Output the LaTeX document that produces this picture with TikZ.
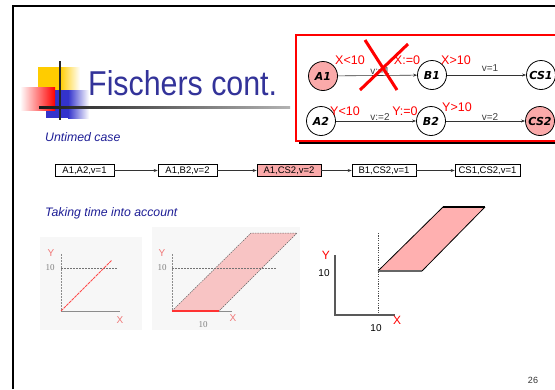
\documentclass[tikz,border=0pt]{standalone}
\usepackage{fontspec}
\setmainfont{Liberation Sans}
\newfontfamily\dejavu{DejaVu Sans}
\newfontfamily\serifft{Liberation Serif}
\usetikzlibrary{arrows.meta}
\definecolor{titleblue}{RGB}{51,51,153}
\definecolor{subblue}{RGB}{30,30,150}
\definecolor{statepink}{RGB}{250,170,170}
\definecolor{logoyellow}{RGB}{255,204,0}
\definecolor{logoblue}{RGB}{51,51,204}
\definecolor{regionpink}{RGB}{255,176,176}
\definecolor{hatchpink}{RGB}{248,196,196}
\definecolor{plotred}{RGB}{240,120,120}
\begin{document}
\begin{tikzpicture}[x=1pt,y=-1pt,
  statenode/.style={circle,draw=black,line width=0.8pt,minimum size=29pt,inner sep=0pt,
    font=\dejavu\bfseries\itshape\fontsize{11}{11}\selectfont},
  guard/.style={text=red,font=\fontsize{12.5}{12.5}\selectfont,inner sep=0pt},
  upd/.style={text=black!75,font=\fontsize{10}{10}\selectfont,inner sep=0pt},
  statebox/.style={draw=black,line width=0.6pt,minimum height=12pt,inner sep=0pt,
    font=\fontsize{9.5}{9.5}\selectfont},
  conn/.style={draw=black!80,line width=0.6pt,-{Stealth[length=4pt,width=3pt]}},
  subtitle/.style={text=subblue,font=\itshape\fontsize{12.3}{12.3}\selectfont,anchor=west,inner sep=0pt},
  faintlbl/.style={text=plotred,font=\fontsize{10}{10}\selectfont,inner sep=0pt},
  faintnum/.style={text=black!50,font=\serifft\fontsize{9}{9}\selectfont,inner sep=0pt},
  axlbl/.style={text=red,font=\fontsize{12}{12}\selectfont,inner sep=0pt},
  axnum/.style={text=black,font=\fontsize{10}{10}\selectfont,inner sep=0pt}
]
\useasboundingbox (0,0) rectangle (555,389);
\fill[white] (0,0) rectangle (555,389);
% slide frame
\draw[black,line width=2pt] (13,389) -- (13,6) -- (556,6);

% logo
\fill[logoyellow] (38,67) rectangle (60,90);
\shade[left color=logoyellow,right color=white] (60,67) rectangle (80,90);
\fill[logoblue] (46,90) rectangle (68,118);
\shade[left color=logoblue,right color=white] (68,90) rectangle (89,118);
\shade[left color=white,right color=red] (20,87) rectangle (55,110);
\draw[black!85,line width=1.6pt] (60,61) -- (60,120);
\shade[left color=black!90,right color=black!30] (39,106) rectangle (290,108.5);

% title
\node[anchor=base west,inner sep=0pt,text=titleblue] (title) at (88,95)
  {\scalebox{0.88}[1]{\fontsize{34.5}{34.5}\selectfont Fischers cont.}};

% red automaton box
\fill[black] (299,38) rectangle (560,144);
\draw[red,line width=1.5pt,fill=white] (296,35) rectangle (558,141);

\node[statenode,fill=statepink] (A1) at (323,76) {A1};
\node[statenode,fill=white] (B1) at (432,75) {B1};
\node[statenode,fill=white] (CS1) at (541,75) {CS1};
\node[statenode,fill=white] (A2) at (321,121) {A2};
\node[statenode,fill=white] (B2) at (431,121) {B2};
\node[statenode,fill=statepink] (CS2) at (540,121) {CS2};

\draw[conn] (A1) -- (B1);
\draw[conn] (B1) -- (CS1);
\draw[conn] (A2) -- (B2);
\draw[conn] (B2) -- (CS2);

\node[guard] (g1) at (350,60) {X<10};
\node[upd] (u1) at (380,71) {v:=1};
\node[guard] (r1) at (407,60) {X:=0};
\node[guard] (g2) at (456,60) {X>10};
\node[upd] (u2) at (490,68) {v=1};

\node[guard] (g3) at (345,111) {Y<10};
\node[upd] (u3) at (380,117) {v:=2};
\node[guard] (r2) at (405,111) {Y:=0};
\node[guard] (g4) at (457,107) {Y>10};
\node[upd] (u4) at (490,117) {v=2};

% red cross
\draw[red,line width=3pt] (365,40) -- (397,90);
\draw[red,line width=3pt] (408,44) -- (360,90);

% subtitles
\node[subtitle] (untimed) at (45,137) {Untimed case};
\node[subtitle] (taking) at (45,213) {Taking time into account};

% untimed state sequence
\node[statebox,minimum width=59pt] (s1) at (84.5,170.5) {A1,A2,v=1};
\node[statebox,minimum width=59pt] (s2) at (187.5,170.5) {A1,B2,v=2};
\node[statebox,minimum width=64pt,fill=statepink] (s3) at (289,170.5) {A1,CS2,v=2};
\node[statebox,minimum width=64pt] (s4) at (384,170.5) {B1,CS2,v=1};
\node[statebox,minimum width=65pt] (s5) at (487.5,170.5) {CS1,CS2,v=1};
\draw[conn] (s1) -- (s2);
\draw[conn] (s2) -- (s3);
\draw[conn] (s3) -- (s4);
\draw[conn] (s4) -- (s5);

% left plot (faint)
\fill[black!3] (40,237) rectangle (142,330);
\draw[black!45,line width=0.6pt,dash pattern=on 2pt off 1pt] (61,254) -- (61,311);
\draw[black!45,line width=0.6pt] (61,311) -- (120,311);
\draw[black!55,line width=0.5pt,dash pattern=on 1.5pt off 1.5pt] (61,268) -- (118,268);
\draw[red!70,line width=0.9pt,dash pattern=on 3pt off 0.8pt] (61,311) -- (112,260);
\node[faintlbl] (ly) at (51,253) {Y};
\node[faintnum] (l10) at (50,268) {10};
\node[faintlbl] (lx) at (120,320) {X};

% middle plot (faint)
\fill[black!3] (152,227) rectangle (300,330);
\fill[hatchpink] (172,311) -- (219,311) -- (297,233) -- (251,233) -- cycle;
\draw[black!60,line width=0.5pt,dash pattern=on 1.5pt off 1pt] (172,311) -- (251,233) -- (297,233) -- (219,311);
\draw[black!45,line width=0.6pt,dash pattern=on 2pt off 1pt] (172,254) -- (172,311);
\draw[black!45,line width=0.6pt] (172,311) -- (232,311);
\draw[black!55,line width=0.5pt,dash pattern=on 1.5pt off 1.5pt] (172,268) -- (276,268);
\draw[red!80,line width=1.8pt] (172,311) -- (219,311);
\node[faintlbl] (my) at (162,253) {Y};
\node[faintnum] (m10) at (162,268) {10};
\node[faintlbl] (mx) at (233,318) {X};
\node[faintnum] (mx10) at (203,325) {10};

% right plot
\fill[regionpink] (378,271) -- (422,271) -- (485,207) -- (443,207) -- cycle;
\draw[black,line width=0.8pt] (378,271) -- (443,207);
\draw[black,line width=1.2pt] (443,207) -- (485,207);
\draw[black,line width=0.8pt] (485,207) -- (422,271);
\draw[black!60,line width=1.2pt] (378,271) -- (422,271);
\draw[black!70,line width=0.8pt,dash pattern=on 1.2pt off 1.2pt] (378,233) -- (378,315);
\draw[black!65,line width=1.3pt] (335,255) -- (335,315) -- (395,315);
\node[axlbl] (ry) at (326,255) {Y};
\node[axnum] (r10) at (324,273) {10};
\node[axlbl] (rx) at (397,320) {X};
\node[axnum] (rx10) at (376,328) {10};

% page number
\node[text=black!80,font=\fontsize{9}{9}\selectfont,inner sep=0pt] (pg) at (533,380) {26};
\end{tikzpicture}
\end{document}
